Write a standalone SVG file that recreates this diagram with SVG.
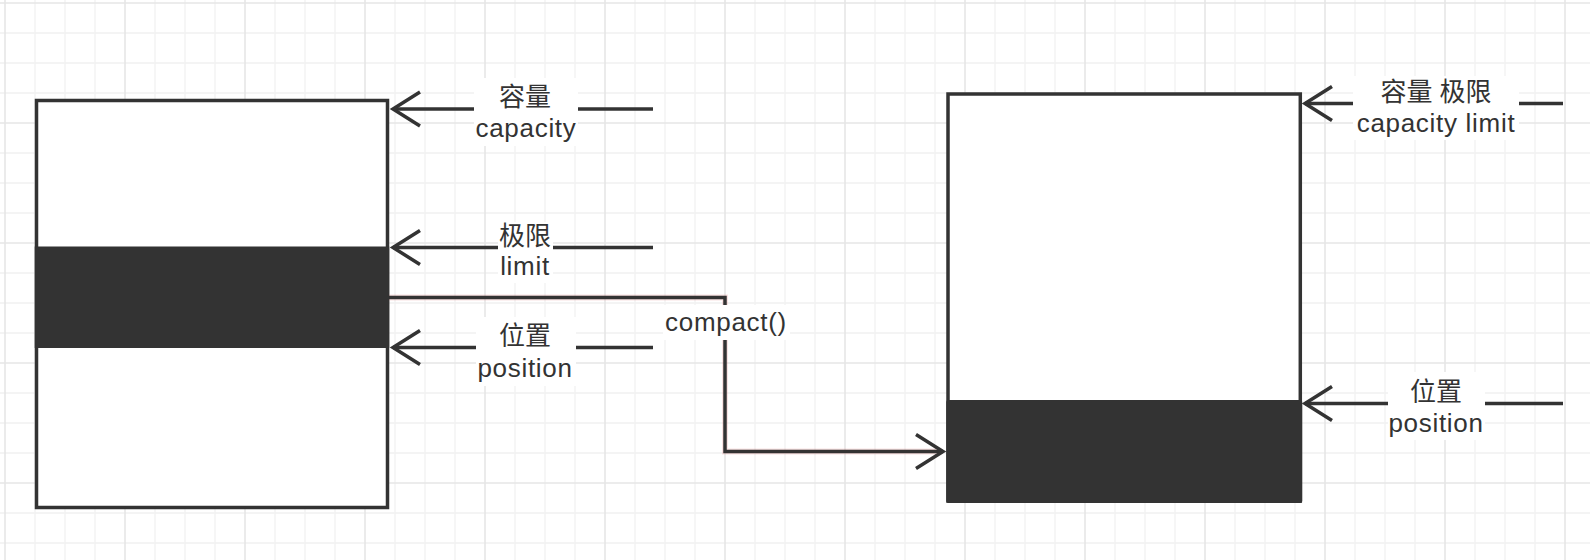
<svg xmlns="http://www.w3.org/2000/svg" width="1590" height="560" viewBox="0 0 1590 560">
  <style>
    .box { fill: #ffffff; stroke: #333333; stroke-width: 3.5; }
    .band { fill: #333333; }
    .lbl { font-family: "Liberation Sans", "Noto Sans CJK SC", sans-serif; font-size: 26px; letter-spacing: 0.7px; fill: #333333; text-anchor: middle; }
    .cjk { letter-spacing: 0; }
    .lblbg { fill: #ffffff; }
    .ptr { fill: none; stroke: #333333; stroke-width: 3.5; }
    .glow { fill: none; stroke: #e07070; stroke-opacity: 0.2; stroke-width: 6; }
  </style>
  <defs>
    <pattern id="grid" patternUnits="userSpaceOnUse" x="-10" y="-12" width="120" height="120">
      <g stroke="#f1f1f1" stroke-width="1.3">
        <line x1="45" y1="0" x2="45" y2="120"/>
        <line x1="75" y1="0" x2="75" y2="120"/>
        <line x1="105" y1="0" x2="105" y2="120"/>
        <line x1="0" y1="45" x2="120" y2="45"/>
        <line x1="0" y1="75" x2="120" y2="75"/>
        <line x1="0" y1="105" x2="120" y2="105"/>
      </g>
      <g stroke="#e6e6e6" stroke-width="1.6">
        <line x1="15" y1="0" x2="15" y2="120"/>
        <line x1="0" y1="15" x2="120" y2="15"/>
      </g>
    </pattern>
    <marker id="ah" markerUnits="userSpaceOnUse" orient="auto" overflow="visible" refX="0" refY="0" markerWidth="30" markerHeight="40">
      <path d="M-27,-17 L0,0 L-27,17" fill="none" stroke="#333333" stroke-width="3.5" stroke-linejoin="miter"/>
    </marker>
  </defs>

  <rect x="0" y="0" width="1590" height="560" fill="#ffffff"/>
  <rect x="0" y="0" width="1590" height="560" fill="url(#grid)"/>

  <g id="buffer-before">
    <rect class="box" x="36.5" y="100.5" width="351" height="407"/>
    <rect class="band" x="34.75" y="246.5" width="354.5" height="101.5"/>
  </g>

  <g id="buffer-after">
    <rect class="box" x="948" y="94" width="352.3" height="407"/>
    <rect class="band" x="946.25" y="400" width="356" height="103" rx="2"/>
  </g>

  <g id="connectors">
    <line class="ptr" x1="653" y1="109" x2="393" y2="109" marker-end="url(#ah)"/>
    <line class="ptr" x1="653" y1="247.5" x2="393" y2="247.5" marker-end="url(#ah)"/>
    <line class="ptr" x1="653" y1="347.5" x2="393" y2="347.5" marker-end="url(#ah)"/>
    <line class="ptr" x1="1563" y1="103.5" x2="1305" y2="103.5" marker-end="url(#ah)"/>
    <line class="ptr" x1="1563" y1="403.5" x2="1305" y2="403.5" marker-end="url(#ah)"/>
    <g id="compact-connector">
      <path class="glow" d="M389,297.5 H725 V451.5 H942"/>
      <path class="ptr" d="M389,297.5 H725 V451.5 H943" marker-end="url(#ah)"/>
    </g>
  </g>

  <g id="label-capacity">
    <rect class="lblbg" x="474" y="78" width="104" height="68"/>
    <text class="lbl"><tspan class="cjk" x="525" y="106">容量</tspan><tspan x="526" y="137">capacity</tspan></text>
  </g>
  <g id="label-limit">
    <rect class="lblbg" x="498" y="222" width="55" height="61"/>
    <text class="lbl"><tspan class="cjk" x="525" y="245">极限</tspan><tspan x="525" y="275">limit</tspan></text>
  </g>
  <g id="label-position">
    <rect class="lblbg" x="476" y="317" width="100" height="69"/>
    <text class="lbl"><tspan class="cjk" x="525" y="345">位置</tspan><tspan x="525" y="377">position</tspan></text>
  </g>
  <g id="label-compact">
    <rect class="lblbg" x="663" y="305" width="127" height="35"/>
    <text class="lbl" x="726" y="331">compact()</text>
  </g>
  <g id="label-capacity-limit">
    <rect class="lblbg" x="1353" y="76" width="166" height="64"/>
    <text class="lbl"><tspan class="cjk" x="1436" y="101">容量 极限</tspan><tspan x="1436" y="132">capacity limit</tspan></text>
  </g>
  <g id="label-position-after">
    <rect class="lblbg" x="1388" y="372" width="97" height="68"/>
    <text class="lbl"><tspan class="cjk" x="1436" y="401">位置</tspan><tspan x="1436" y="432">position</tspan></text>
  </g>
</svg>
